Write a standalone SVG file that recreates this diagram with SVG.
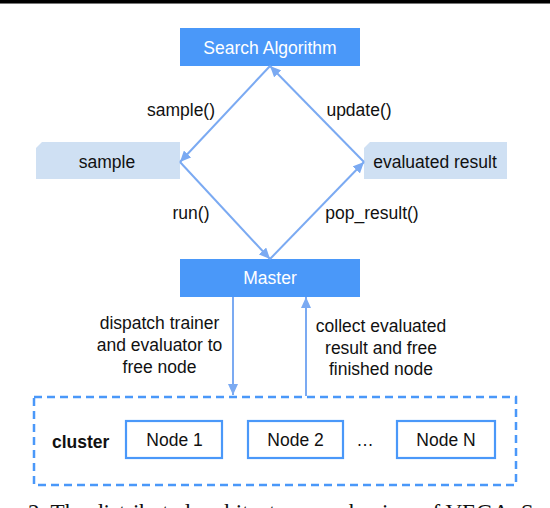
<svg xmlns="http://www.w3.org/2000/svg" width="550" height="508" viewBox="0 0 550 508">
<defs>
<marker id="ah" markerUnits="userSpaceOnUse" markerWidth="12" markerHeight="10" refX="11" refY="5" orient="auto">
<path d="M0,0 L11,5 L0,10 z" fill="#7baaf2"/>
</marker>
<style>
.t{font-family:"Liberation Sans",Arial,sans-serif;font-size:17.5px;fill:#111;}
.w{font-family:"Liberation Sans",Arial,sans-serif;font-size:17.5px;fill:#fff;text-anchor:middle;}
.dark{fill:#4a98f9;}
.light{fill:#cfe0f3;}
.node{fill:#fff;stroke:#4a98f9;stroke-width:2.2;}
.c{text-anchor:middle;}
.conn{stroke:#7baaf2;stroke-width:2;fill:none;marker-end:url(#ah);}
</style>
</defs>
<rect x="0" y="0" width="550" height="3" fill="#000"/>
<rect x="0" y="3" width="550" height="1" fill="#777"/>
<g id="search">
<rect class="dark" x="180" y="28" width="180" height="38"/>
<text class="w" x="270" y="54">Search Algorithm</text>
</g>
<g id="sample">
<path class="light" d="M42,142 L180,142 L180,179 L36,179 L36,148 z"/>
<text class="t c" x="107" y="168">sample</text>
</g>
<g id="evaluated">
<path class="light" d="M370,142 L507,142 L507,179 L364,179 L364,148 z"/>
<text class="t c" x="435" y="168">evaluated result</text>
</g>
<g id="master">
<rect class="dark" x="180" y="259" width="180" height="38"/>
<text class="w" x="270" y="284">Master</text>
</g>
<g id="connectors">
<line class="conn" x1="270" y1="66" x2="180" y2="162"/>
<line class="conn" x1="364" y1="162" x2="270" y2="66"/>
<line class="conn" x1="180" y1="162" x2="270" y2="259"/>
<line class="conn" x1="270" y1="259" x2="364" y2="162"/>
<line class="conn" x1="233" y1="297" x2="233" y2="395"/>
<line class="conn" x1="306" y1="396" x2="306" y2="297"/>
<text class="t c" x="181" y="116">sample()</text>
<text class="t c" x="359" y="116">update()</text>
<text class="t c" x="191" y="219">run()</text>
<text class="t c" x="372" y="219">pop_result()</text>
<text class="t c" x="159.5" y="329">dispatch trainer</text>
<text class="t c" x="159.5" y="351">and evaluator to</text>
<text class="t c" x="159.5" y="373">free node</text>
<text class="t c" x="381" y="332">collect evaluated</text>
<text class="t c" x="381" y="354">result and free</text>
<text class="t c" x="381" y="375">finished node</text>
</g>
<g id="cluster">
<rect x="34" y="397" width="482" height="88" fill="none" stroke="#4a98f9" stroke-width="2.5" stroke-dasharray="8,5"/>
<text class="t" x="52" y="448" font-weight="bold">cluster</text>
</g>
<g id="node1">
<rect class="node" x="126" y="421" width="96" height="37"/>
<text class="t c" x="174.5" y="446">Node 1</text>
</g>
<g id="node2">
<rect class="node" x="248" y="421" width="95" height="37"/>
<text class="t c" x="295.5" y="446">Node 2</text>
</g>
<text class="t c" x="365" y="446">…</text>
<g id="nodeN">
<rect class="node" x="397" y="421" width="98" height="37"/>
<text class="t c" x="446" y="446">Node N</text>
</g>
<text x="28" y="520" font-family="Liberation Serif,'Times New Roman',serif" font-size="23" fill="#111">2. The distributed architecture mechanism of VEGA. S</text>
</svg>
